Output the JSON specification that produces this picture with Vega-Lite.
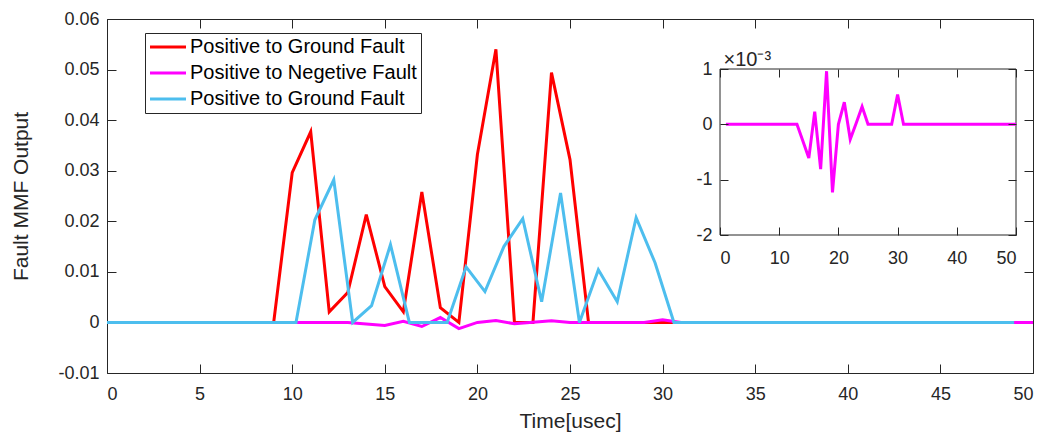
{
  "$schema": "https://vega.github.io/schema/vega-lite/v6.json",
  "width": 926,
  "height": 354,
  "autosize": {"type": "none"},
  "padding": {"left": 107, "top": 19, "right": 16, "bottom": 59},
  "background": "white",
  "config": {
    "font": "Liberation Sans",
    "view": {"stroke": "#262626", "strokeWidth": 1},
    "axis": {"grid": false, "domain": false, "tickColor": "#262626", "labelColor": "#262626", "titleColor": "#262626", "labelFontSize": 18, "titleFontSize": 21, "titleFontWeight": "normal", "tickWidth": 1}
  },
  "data": {
    "values": [
      {"series": "Positive to Ground Fault", "time": 1, "mmf": 0},
      {"series": "Positive to Ground Fault", "time": 2, "mmf": 0},
      {"series": "Positive to Ground Fault", "time": 3, "mmf": 0},
      {"series": "Positive to Ground Fault", "time": 4, "mmf": 0},
      {"series": "Positive to Ground Fault", "time": 5, "mmf": 0},
      {"series": "Positive to Ground Fault", "time": 6, "mmf": 0},
      {"series": "Positive to Ground Fault", "time": 7, "mmf": 0},
      {"series": "Positive to Ground Fault", "time": 8, "mmf": 0},
      {"series": "Positive to Ground Fault", "time": 9, "mmf": 0},
      {"series": "Positive to Ground Fault", "time": 10, "mmf": 0.0296},
      {"series": "Positive to Ground Fault", "time": 11, "mmf": 0.0377},
      {"series": "Positive to Ground Fault", "time": 12, "mmf": 0.0021},
      {"series": "Positive to Ground Fault", "time": 13, "mmf": 0.0059},
      {"series": "Positive to Ground Fault", "time": 14, "mmf": 0.0213},
      {"series": "Positive to Ground Fault", "time": 15, "mmf": 0.0071},
      {"series": "Positive to Ground Fault", "time": 16, "mmf": 0.0021},
      {"series": "Positive to Ground Fault", "time": 17, "mmf": 0.0258},
      {"series": "Positive to Ground Fault", "time": 18, "mmf": 0.0029},
      {"series": "Positive to Ground Fault", "time": 19, "mmf": 0},
      {"series": "Positive to Ground Fault", "time": 20, "mmf": 0.0332},
      {"series": "Positive to Ground Fault", "time": 21, "mmf": 0.054},
      {"series": "Positive to Ground Fault", "time": 22, "mmf": 0},
      {"series": "Positive to Ground Fault", "time": 23, "mmf": 0},
      {"series": "Positive to Ground Fault", "time": 24, "mmf": 0.0494},
      {"series": "Positive to Ground Fault", "time": 25, "mmf": 0.0322},
      {"series": "Positive to Ground Fault", "time": 26, "mmf": 0},
      {"series": "Positive to Ground Fault", "time": 27, "mmf": 0},
      {"series": "Positive to Ground Fault", "time": 28, "mmf": 0},
      {"series": "Positive to Ground Fault", "time": 29, "mmf": 0},
      {"series": "Positive to Ground Fault", "time": 30, "mmf": 0},
      {"series": "Positive to Ground Fault", "time": 35, "mmf": 0},
      {"series": "Positive to Ground Fault", "time": 40, "mmf": 0},
      {"series": "Positive to Ground Fault", "time": 45, "mmf": 0},
      {"series": "Positive to Ground Fault", "time": 48, "mmf": 0},
      {"series": "Positive to Negetive Fault", "time": 1, "mmf": 0},
      {"series": "Positive to Negetive Fault", "time": 5, "mmf": 0},
      {"series": "Positive to Negetive Fault", "time": 10, "mmf": 0},
      {"series": "Positive to Negetive Fault", "time": 13, "mmf": 0},
      {"series": "Positive to Negetive Fault", "time": 14, "mmf": -0.0003},
      {"series": "Positive to Negetive Fault", "time": 15, "mmf": -0.00061},
      {"series": "Positive to Negetive Fault", "time": 16, "mmf": 0.00023},
      {"series": "Positive to Negetive Fault", "time": 17, "mmf": -0.00081},
      {"series": "Positive to Negetive Fault", "time": 18, "mmf": 0.00096},
      {"series": "Positive to Negetive Fault", "time": 19, "mmf": -0.00123},
      {"series": "Positive to Negetive Fault", "time": 20, "mmf": 0},
      {"series": "Positive to Negetive Fault", "time": 21, "mmf": 0.0004},
      {"series": "Positive to Negetive Fault", "time": 22, "mmf": -0.00027},
      {"series": "Positive to Negetive Fault", "time": 23, "mmf": 0.00002},
      {"series": "Positive to Negetive Fault", "time": 24, "mmf": 0.00032},
      {"series": "Positive to Negetive Fault", "time": 25, "mmf": 0},
      {"series": "Positive to Negetive Fault", "time": 26, "mmf": 0},
      {"series": "Positive to Negetive Fault", "time": 27, "mmf": 0},
      {"series": "Positive to Negetive Fault", "time": 28, "mmf": 0},
      {"series": "Positive to Negetive Fault", "time": 29, "mmf": 0},
      {"series": "Positive to Negetive Fault", "time": 30, "mmf": 0.00054},
      {"series": "Positive to Negetive Fault", "time": 31, "mmf": 0},
      {"series": "Positive to Negetive Fault", "time": 35, "mmf": 0},
      {"series": "Positive to Negetive Fault", "time": 40, "mmf": 0},
      {"series": "Positive to Negetive Fault", "time": 45, "mmf": 0},
      {"series": "Positive to Negetive Fault", "time": 50, "mmf": 0},
      {"series": "Positive to Ground Fault ", "time": 0, "mmf": 0},
      {"series": "Positive to Ground Fault ", "time": 1.02, "mmf": 0},
      {"series": "Positive to Ground Fault ", "time": 2.041, "mmf": 0},
      {"series": "Positive to Ground Fault ", "time": 3.061, "mmf": 0},
      {"series": "Positive to Ground Fault ", "time": 4.082, "mmf": 0},
      {"series": "Positive to Ground Fault ", "time": 5.102, "mmf": 0},
      {"series": "Positive to Ground Fault ", "time": 6.122, "mmf": 0},
      {"series": "Positive to Ground Fault ", "time": 7.143, "mmf": 0},
      {"series": "Positive to Ground Fault ", "time": 8.163, "mmf": 0},
      {"series": "Positive to Ground Fault ", "time": 9.184, "mmf": 0},
      {"series": "Positive to Ground Fault ", "time": 10.204, "mmf": 0},
      {"series": "Positive to Ground Fault ", "time": 11.224, "mmf": 0.0203},
      {"series": "Positive to Ground Fault ", "time": 12.245, "mmf": 0.0282},
      {"series": "Positive to Ground Fault ", "time": 13.265, "mmf": 0},
      {"series": "Positive to Ground Fault ", "time": 14.286, "mmf": 0.0033},
      {"series": "Positive to Ground Fault ", "time": 15.306, "mmf": 0.0154},
      {"series": "Positive to Ground Fault ", "time": 16.327, "mmf": 0},
      {"series": "Positive to Ground Fault ", "time": 17.347, "mmf": 0},
      {"series": "Positive to Ground Fault ", "time": 18.367, "mmf": 0},
      {"series": "Positive to Ground Fault ", "time": 19.388, "mmf": 0.011},
      {"series": "Positive to Ground Fault ", "time": 20.408, "mmf": 0.0061},
      {"series": "Positive to Ground Fault ", "time": 21.429, "mmf": 0.015},
      {"series": "Positive to Ground Fault ", "time": 22.449, "mmf": 0.0205},
      {"series": "Positive to Ground Fault ", "time": 23.469, "mmf": 0.0041},
      {"series": "Positive to Ground Fault ", "time": 24.49, "mmf": 0.0256},
      {"series": "Positive to Ground Fault ", "time": 25.51, "mmf": 0},
      {"series": "Positive to Ground Fault ", "time": 26.531, "mmf": 0.0104},
      {"series": "Positive to Ground Fault ", "time": 27.551, "mmf": 0.0041},
      {"series": "Positive to Ground Fault ", "time": 28.571, "mmf": 0.0207},
      {"series": "Positive to Ground Fault ", "time": 29.592, "mmf": 0.0118},
      {"series": "Positive to Ground Fault ", "time": 30.612, "mmf": 0},
      {"series": "Positive to Ground Fault ", "time": 31.633, "mmf": 0},
      {"series": "Positive to Ground Fault ", "time": 35.714, "mmf": 0},
      {"series": "Positive to Ground Fault ", "time": 40.816, "mmf": 0},
      {"series": "Positive to Ground Fault ", "time": 45.918, "mmf": 0},
      {"series": "Positive to Ground Fault ", "time": 48.98, "mmf": 0}
    ]
  },
  "layer": [
    {
      "encoding": {
        "x": {"field": "time", "type": "quantitative", "scale": {"domain": [0, 50], "nice": false, "zero": false},
          "axis": {"orient": "bottom", "values": [0, 5, 10, 15, 20, 25, 30, 35, 40, 45, 50], "tickSize": -9, "labelPadding": 21, "title": "Time[usec]", "titlePadding": 7}},
        "y": {"field": "mmf", "type": "quantitative", "scale": {"domain": [-0.01, 0.06], "nice": false, "zero": false},
          "axis": {"orient": "left", "values": [-0.01, 0, 0.01, 0.02, 0.03, 0.04, 0.05, 0.06], "tickSize": -9, "labelPadding": 17, "labelExpr": "replace(format(datum.value, ''), '\u2212', '-')", "title": "Fault MMF Output", "titlePadding": 26}},
        "color": {"field": "series", "type": "nominal",
          "scale": {"domain": ["Positive to Ground Fault", "Positive to Negetive Fault", "Positive to Ground Fault "], "range": ["#FF0000", "#FF00FF", "#4DBEEE"]},
          "legend": {"orient": "none", "legendX": 38, "legendY": 14, "title": null, "fillColor": "white", "strokeColor": "#262626", "padding": 4, "rowPadding": 6,
            "symbolType": "M-3,0H3", "symbolSize": 144, "symbolStrokeWidth": 3, "symbolOffset": 9, "labelOffset": 12,
            "labelFontSize": 20, "labelColor": "black", "labelLimit": 400}}
      },
      "layer": [
        {"transform": [{"filter": "datum.series === 'Positive to Ground Fault'"}], "mark": {"type": "line", "strokeWidth": 3}},
        {"transform": [{"filter": "datum.series === 'Positive to Negetive Fault'"}], "mark": {"type": "line", "strokeWidth": 3}},
        {"transform": [{"filter": "datum.series === 'Positive to Ground Fault '"}], "mark": {"type": "line", "strokeWidth": 3}}
      ]
    },
    {
      "mark": {"type": "point", "opacity": 0},
      "encoding": {
        "x": {"field": "time", "type": "quantitative", "scale": {"domain": [0, 50], "nice": false, "zero": false},
          "axis": {"orient": "top", "values": [0, 5, 10, 15, 20, 25, 30, 35, 40, 45, 50], "tickSize": -9, "labels": false, "title": null}},
        "y": {"field": "mmf", "type": "quantitative", "scale": {"domain": [-0.01, 0.06], "nice": false, "zero": false},
          "axis": {"orient": "right", "values": [-0.01, 0, 0.01, 0.02, 0.03, 0.04, 0.05, 0.06], "tickSize": -9, "labels": false, "title": null}}
      }
    },
    {
      "data": {"values": [{}]},
      "mark": {"type": "rect", "fill": "white", "stroke": "#262626", "strokeWidth": 1},
      "encoding": {
        "x": {"datum": 0, "type": "quantitative", "scale": {"domain": [0, 50], "range": [613, 909], "nice": false, "zero": false},
          "axis": {"orient": "top", "offset": -50, "values": [0, 10, 20, 30, 40, 50], "tickSize": -8, "labels": false, "title": null, "zindex": 1}},
        "x2": {"datum": 50},
        "y": {"datum": -0.002, "type": "quantitative", "scale": {"domain": [-0.002, 0.001], "range": [216, 50], "nice": false, "zero": false},
          "axis": {"orient": "right", "offset": -17, "values": [-0.002, -0.001, 0, 0.001], "tickSize": -8, "labels": false, "title": null, "zindex": 1}},
        "y2": {"datum": 0.001}
      }
    },
    {
      "transform": [{"filter": "datum.series === 'Positive to Negetive Fault'"}],
      "mark": {"type": "line", "strokeWidth": 3, "color": "#FF00FF"},
      "encoding": {
        "x": {"field": "time", "type": "quantitative", "scale": {"domain": [0, 50], "range": [613, 909], "nice": false, "zero": false},
          "axis": {"orient": "bottom", "offset": -138, "values": [0, 10, 20, 30, 40, 50], "tickSize": -8, "labelPadding": 22, "title": null, "zindex": 1}},
        "y": {"field": "mmf", "type": "quantitative", "scale": {"domain": [-0.002, 0.001], "range": [216, 50], "nice": false, "zero": false},
          "axis": {"orient": "left", "offset": -613, "values": [-0.002, -0.001, 0, 0.001], "tickSize": -8, "labelPadding": 16,
            "labelExpr": "replace(format(round(datum.value * 1000), 'd'), '\u2212', '-')",
            "title": "\u00d710\u207b\u00b3", "titleAngle": 0, "titleAlign": "left", "titleBaseline": "alphabetic", "titleX": 3, "titleY": 46, "titleFontSize": 20, "zindex": 1}}
      }
    }
  ],
  "resolve": {"scale": {"x": "independent", "y": "independent"}, "axis": {"x": "independent", "y": "independent"}}
}
